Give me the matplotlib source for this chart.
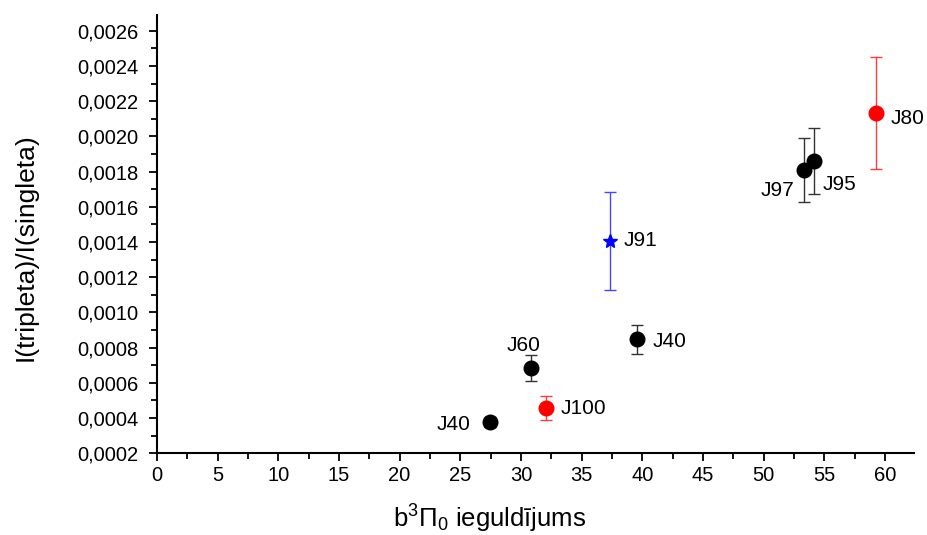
# coding=utf-8
import matplotlib
matplotlib.use("Agg")
import matplotlib.pyplot as plt
from matplotlib.ticker import FuncFormatter, MultipleLocator

plt.rcParams['font.family'] = ['Liberation Sans', 'DejaVu Sans']
plt.rcParams['mathtext.fontset'] = 'custom'
plt.rcParams['mathtext.rm'] = 'Liberation Sans'
plt.rcParams['mathtext.it'] = 'Liberation Sans:italic'

labels = ["J40", "J60", "J100", "J40", "J91", "J97", "J95", "J80"]
xx = [27.45, 30.8, 32.1, 39.55, 37.35, 53.3, 54.15, 59.3]
yy = [0.000376, 0.000683, 0.000456, 0.000848, 0.001406, 0.001809, 0.00186, 0.002133]
err = [0.00003, 0.000074, 0.000068, 0.000082, 0.000279, 0.000182, 0.000185, 0.000318]
kind = ["black", "black", "red", "black", "blue", "black", "black", "red"]

# label placement: offset in points and horizontal alignment
offsets = [(-14, -2), (-5, 16.5), (10, 0), (11.5, -1.5), (9.4, 0), (-7, -14.5), (6.5, -17), (10, -4)]
aligns = ["right", "center", "left", "left", "left", "right", "left", "left"]

styles = {
    "black": dict(fmt="o", color="black", ecolor="#333333", ms=10.5),
    "red": dict(fmt="o", color="red", ecolor="#ff3c3c", ms=10.5),
    "blue": dict(fmt="*", color="blue", ecolor="#4646ff", ms=10),
}

fig = plt.figure(figsize=(9.28, 5.35), dpi=100)
ax = fig.add_axes([0.169, 0.153, 0.816, 0.819])

for x, y, e, k, lab, off, ha in zip(xx, yy, err, kind, labels, offsets, aligns):
    st = styles[k]
    ax.errorbar(x, y, yerr=e, fmt=st["fmt"], color=st["color"], ecolor=st["ecolor"],
                ms=st["ms"], elinewidth=1, capsize=4, capthick=1)
    ax.annotate(lab, (x, y), xytext=off, textcoords="offset points",
                fontsize=15, va="center", ha=ha)

ax.set_xlim(0, 62.4)
ax.set_ylim(0.0002, 0.00269)
ax.xaxis.set_major_locator(MultipleLocator(5))
ax.xaxis.set_minor_locator(MultipleLocator(2.5))
ax.yaxis.set_major_locator(MultipleLocator(0.0002))
ax.yaxis.set_minor_locator(MultipleLocator(0.0001))
ax.yaxis.set_major_formatter(FuncFormatter(lambda v, p: ("%.4f" % v).replace(".", ",")))

ax.spines['top'].set_visible(False)
ax.spines['right'].set_visible(False)
ax.spines['left'].set_linewidth(1.5)
ax.spines['bottom'].set_linewidth(1.5)
ax.tick_params(which="major", direction="out", length=6, width=1.3, labelsize=14.5)
ax.tick_params(axis="y", which="major", pad=7)
ax.tick_params(which="minor", direction="out", length=4, width=1.3)

ax.set_xlabel("b$^3$\u03a0$_0$ ieguld\u012bjums", fontsize=18.5)
ax.set_ylabel("I(tripleta)/I(singleta)", fontsize=19)
ax.xaxis.set_label_coords(0.44, -0.113)
ax.yaxis.set_label_coords(-0.158, 0.47)

fig.savefig("out.png", dpi=100)
